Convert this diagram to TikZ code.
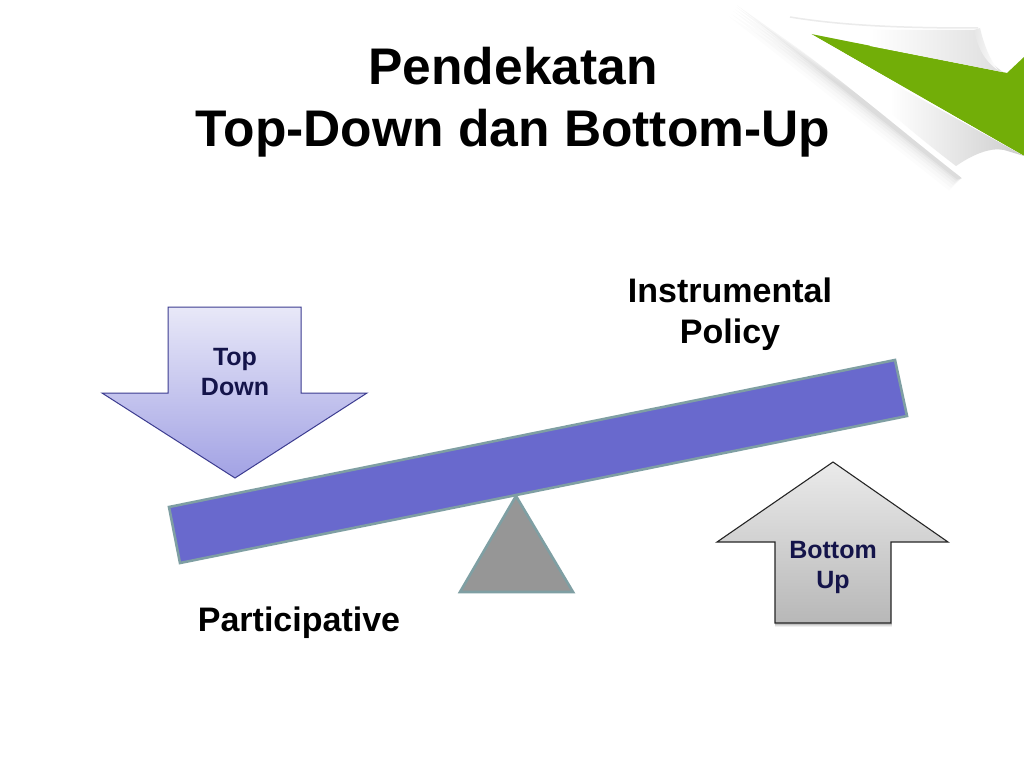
\documentclass[tikz,border=0pt]{standalone}
\usepackage{fontspec}
\setmainfont{Liberation Sans}
\definecolor{beamblue}{HTML}{6969CD}
\definecolor{beamedge}{HTML}{7F9FA3}
\definecolor{pivotgrey}{HTML}{969696}
\definecolor{navy}{HTML}{14144A}
\definecolor{leaf}{HTML}{72AE08}
\definecolor{dtop}{HTML}{E8E8F8}
\definecolor{dbot}{HTML}{A2A2E4}
\definecolor{dedge}{HTML}{3C3C90}
\tikzset{
  x=1pt,y=-1pt,
  titletext/.style={font=\fontsize{51.5}{62}\selectfont\bfseries,align=center,text=black,inner sep=0pt},
  labeltext/.style={font=\fontsize{34}{41}\selectfont\bfseries,align=center,text=black,inner sep=0pt},
  arrowtext/.style={font=\fontsize{25}{30}\selectfont\bfseries,align=center,text=navy,inner sep=0pt},
  beamshape/.style={fill=beamblue,draw=beamedge,line width=2.6pt,line join=miter},
  pivotshape/.style={fill=pivotgrey,draw=beamedge,line width=2.6pt,line join=miter},
  downarrow/.style={top color=dtop,bottom color=dbot,draw=dedge,line width=1pt,line join=miter},
  uparrow/.style={top color=white!92!black,bottom color=black!28,draw=black!85,line width=1.1pt,line join=miter},
}
\begin{document}
\begin{tikzpicture}
\useasboundingbox (0,0) rectangle (1024,768);
\fill[white] (0,0) rectangle (1024,768);

% page curl: soft shadow below the fold
\foreach \d/\o in {18/0.012,14/0.014,10/0.018,7/0.022,4/0.03,2/0.04}{
  \fill[black,opacity=\o] (738-\d*0.5,4+\d*0.7) -- (958-\d*0.5,178+\d*0.7) -- (962,178) -- (900,120) -- cycle;
}
% green corner
\fill[leaf] (811,34) -- (1007,73) -- (1024,57) -- (1024,156) -- cycle;
% lower flap
\fill[white] (731,0) -- (811,34) -- (1024,156) -- (1004,150) .. controls (985,155) and (972,166) .. (962,178) .. controls (900,130) and (820,60) .. cycle;
\shade[left color=white,right color=black!20]
  (890,82) -- (1024,156) -- (1004,150) .. controls (990,147) and (972,155) .. (956,166) .. controls (935,150) and (910,130) .. (890,112) -- cycle;
% upper flap
\draw[black!8,line width=1.5pt] (790,17) .. controls (850,27) and (920,28) .. (978,28);
\shade[left color=white,right color=black!13]
  (870,30) -- (977,30) .. controls (979,45) and (985,60) .. (1003,72) -- (1000,71.5) -- (870,46) -- cycle;
\shade[left color=black!10,right color=white] (974,30) .. controls (977,45) and (983,60) .. (998,70) .. controls (990,60) and (984,45) .. (980,28) -- cycle;

% title
\node[titletext] (title) at (513,102) {Pendekatan\\[0pt]Top-Down dan Bottom-Up};

% seesaw
\draw[beamshape] (169,507) -- (895,360) -- (907,416) -- (180,563) -- cycle;
\draw[pivotshape] (516,496) -- (573,592) -- (460,592) -- cycle;

% arrows
\draw[downarrow] (168,307) -- (301,307) -- (301,393) -- (367,393) -- (235,478) -- (102,393) -- (168,393) -- cycle;
\foreach \d/\o in {4/0.06,3/0.08,2/0.12}{
  \fill[black,opacity=\o] (775,623) rectangle (892,623+\d);
}
\draw[uparrow] (833,462) -- (948,542) -- (891,542) -- (891,623) -- (775,623) -- (775,542) -- (717,542) -- cycle;

% labels
\node[labeltext] (instr) at (730,314) {Instrumental\\Policy};
\node[labeltext] (part) at (299,623) {Participative};
\node[arrowtext] (top) at (235,372) {Top\\Down};
\node[arrowtext] (bot) at (833,567) {Bottom\\Up};
\end{tikzpicture}
\end{document}
